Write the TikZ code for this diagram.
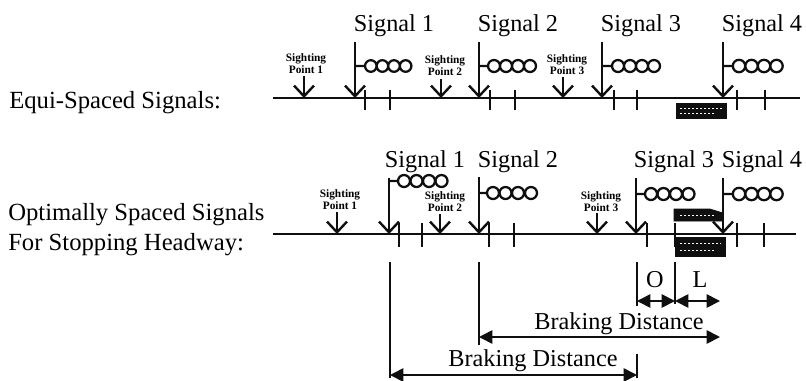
\documentclass[tikz,border=0pt]{standalone}
\usepackage{fontspec}
\setmainfont{Liberation Serif}
\usetikzlibrary{arrows.meta}
\definecolor{figline}{RGB}{15,15,15}
\tikzset{
  trk/.style  ={draw=figline, line width=1.9pt},
  tck/.style  ={draw=figline, line width=1.3pt},
  pst/.style  ={draw=figline, line width=1.4pt, -{Straight Barb[length=8pt,width=15pt,line width=1.8pt]}},
  spt/.style  ={draw=figline, line width=1.2pt, -{Straight Barb[length=8pt,width=15pt,line width=1.8pt]}},
  lmp/.style  ={draw=figline, line width=1.7pt},
  dim/.style  ={draw=figline, line width=1.2pt},
  dar/.style  ={draw=figline, line width=1.3pt, {Triangle[length=10pt,width=10pt]}-{Triangle[length=10pt,width=10pt]}},
  trn/.style  ={fill=figline, draw=figline, line width=0.5pt},
  spk/.style  ={draw=white, line width=0.5pt, dash pattern=on 1.5pt off 1.5pt},
  siglab/.style ={font=\fontsize{18.2}{20}\selectfont, inner sep=0pt, anchor=base},
  sidelab/.style={font=\fontsize{18.5}{20}\selectfont, inner sep=0pt, anchor=base west},
  spolab/.style ={font=\fontsize{8.5}{9}\selectfont\bfseries, inner sep=0pt, align=center},
}
\begin{document}
\begin{tikzpicture}[x=0.75pt,y=-0.75pt]
  \useasboundingbox (0,0) rectangle (806,380);
  % top row
  \node[sidelab] (eq) at (9,108) {Equi-Spaced Signals:};
  \coordinate (ta) at (273,98);
  \coordinate (tb) at (800,98);
  \draw[trk] (ta) -- (tb);
  \node[siglab] (a1) at (394,31) {Signal 1};
  \node[siglab] (a2) at (518,31) {Signal 2};
  \node[siglab] (a3) at (641,31) {Signal 3};
  \node[siglab] (a4) at (762,31) {Signal 4};
  \draw[pst] (355,42) coordinate (p1) -- (355,98);
  \draw[pst] (479,42) coordinate (p2) -- (479,98);
  \draw[pst] (602,42) coordinate (p3) -- (602,98);
  \draw[pst] (723,42) coordinate (p4) -- (723,98);
  \draw[lmp] (355,66) -- (365,66) (370.8,66) circle (5.8) (382.4,66) circle (5.8) (394,66) circle (5.8) (405.6,66) circle (5.8);
  \draw[lmp] (479,66) -- (488,66) (494,66) circle (6) (506,66) circle (6) (518,66) circle (6) (530,66) circle (6);
  \draw[lmp] (602,66) -- (612,66) (618,66) circle (6) (630,66) circle (6) (642,66) circle (6) (654,66) circle (6);
  \draw[lmp] (723,66) -- (733,66) (739,66) circle (6.2) (751.5,66) circle (6.2) (764,66) circle (6.2) (776.5,66) circle (6.2);
  \foreach \xt in {365,390,490,515,614,637,737,765}
    \draw[tck] (\xt,90) -- (\xt,110);
  \node[spolab] (b1) at (306,64) {Sighting\\Point 1};
  \node[spolab] (b2) at (445,66) {Sighting\\Point 2};
  \node[spolab] (b3) at (567,65) {Sighting\\Point 3};
  \draw[spt] (304,76) -- (304,98);
  \draw[spt] (441,79) -- (441,98);
  \draw[spt] (563,77) -- (563,98);
  \fill[trn] (676,103) rectangle (726,118);
  \draw[spk] (680,108) -- (722,108);
  \draw[spk] (680,113) -- (714,113);
  % bottom row
  \node[sidelab] (op) at (8,220) {Optimally Spaced Signals};
  \node[sidelab] (fo) at (8,250) {For Stopping Headway:};
  \coordinate (tc) at (273,234);
  \coordinate (td) at (796,234);
  \draw[trk] (tc) -- (td);
  \node[siglab] (c1) at (425,167) {Signal 1};
  \node[siglab] (c2) at (518,167) {Signal 2};
  \node[siglab] (c3) at (674,167) {Signal 3};
  \node[siglab] (c4) at (762,167) {Signal 4};
  \draw[pst] (389,178) coordinate (q1) -- (389,234);
  \draw[pst] (479,177) coordinate (q2) -- (479,234);
  \draw[pst] (636,178) coordinate (q3) -- (636,234);
  \draw[pst] (723,178) coordinate (q4) -- (723,234);
  \draw[lmp] (389,181) -- (398,181) (404,181) circle (6) (416.5,181) circle (6) (429,181) circle (6) (441.5,181) circle (6);
  \draw[lmp] (479,193) -- (487,193) (493,193) circle (6) (505.5,193) circle (6) (518,193) circle (6) (531,193) circle (6);
  \draw[lmp] (636,194) -- (645,194) (651,194) circle (6) (663.5,194) circle (6) (676,194) circle (6) (688.5,194) circle (6);
  \draw[lmp] (723,194) -- (733,194) (739,194) circle (6.2) (751.5,194) circle (6.2) (764,194) circle (6.2) (776.5,194) circle (6.2);
  \foreach \xt in {399,422,489,514,647,675,737,764}
    \draw[tck] (\xt,223) -- (\xt,247);
  \node[spolab] (d1) at (340,200) {Sighting\\Point 1};
  \node[spolab] (d2) at (445,202) {Sighting\\Point 2};
  \node[spolab] (d3) at (601,202) {Sighting\\Point 3};
  \draw[spt] (337,212) -- (337,234);
  \draw[spt] (440,214) -- (440,234);
  \draw[spt] (597,213) -- (597,234);
  \fill[trn] (674,209) -- (710,209) -- (723,213) -- (723,221) -- (674,221) -- cycle;
  \draw[spk] (680,215) -- (716,215);
  \fill[trn] (675,237) rectangle (725,256);
  \draw[spk] (680,243) -- (721,243);
  \draw[spk] (680,250) -- (716,250);
  % distances
  \coordinate (v1) at (390,262);
  \coordinate (v1b) at (390,378);
  \coordinate (v2) at (479,262);
  \coordinate (v2b) at (479,345);
  \coordinate (v3) at (637,262);
  \coordinate (v3b) at (637,306);
  \coordinate (v4) at (675,262);
  \coordinate (v4b) at (675,304);
  \coordinate (v5) at (637,354);
  \coordinate (v5b) at (637,378);
  \draw[dim] (v1) -- (v1b);
  \draw[dim] (v2) -- (v2b);
  \draw[dim] (v3) -- (v3b);
  \draw[dim] (v4) -- (v4b);
  \draw[dim] (v5) -- (v5b);
  \coordinate (o1) at (637,301);
  \coordinate (o2) at (675,301);
  \coordinate (o3) at (720,301);
  \draw[dar] (o1) -- (o2);
  \draw[dar] (o2) -- (o3);
  \node[siglab] (lo) at (655,287) {O};
  \node[siglab] (ll) at (700,287) {L};
  \coordinate (e1) at (479,337);
  \coordinate (e2) at (720,337);
  \draw[dar] (e1) -- (e2);
  \node[siglab] (bd) at (619,329) {Braking Distance};
  \coordinate (f1) at (390,375);
  \coordinate (f2) at (637,375);
  \draw[dar] (f1) -- (f2);
  \node[siglab] (be) at (533,366) {Braking Distance};
\end{tikzpicture}
\end{document}
